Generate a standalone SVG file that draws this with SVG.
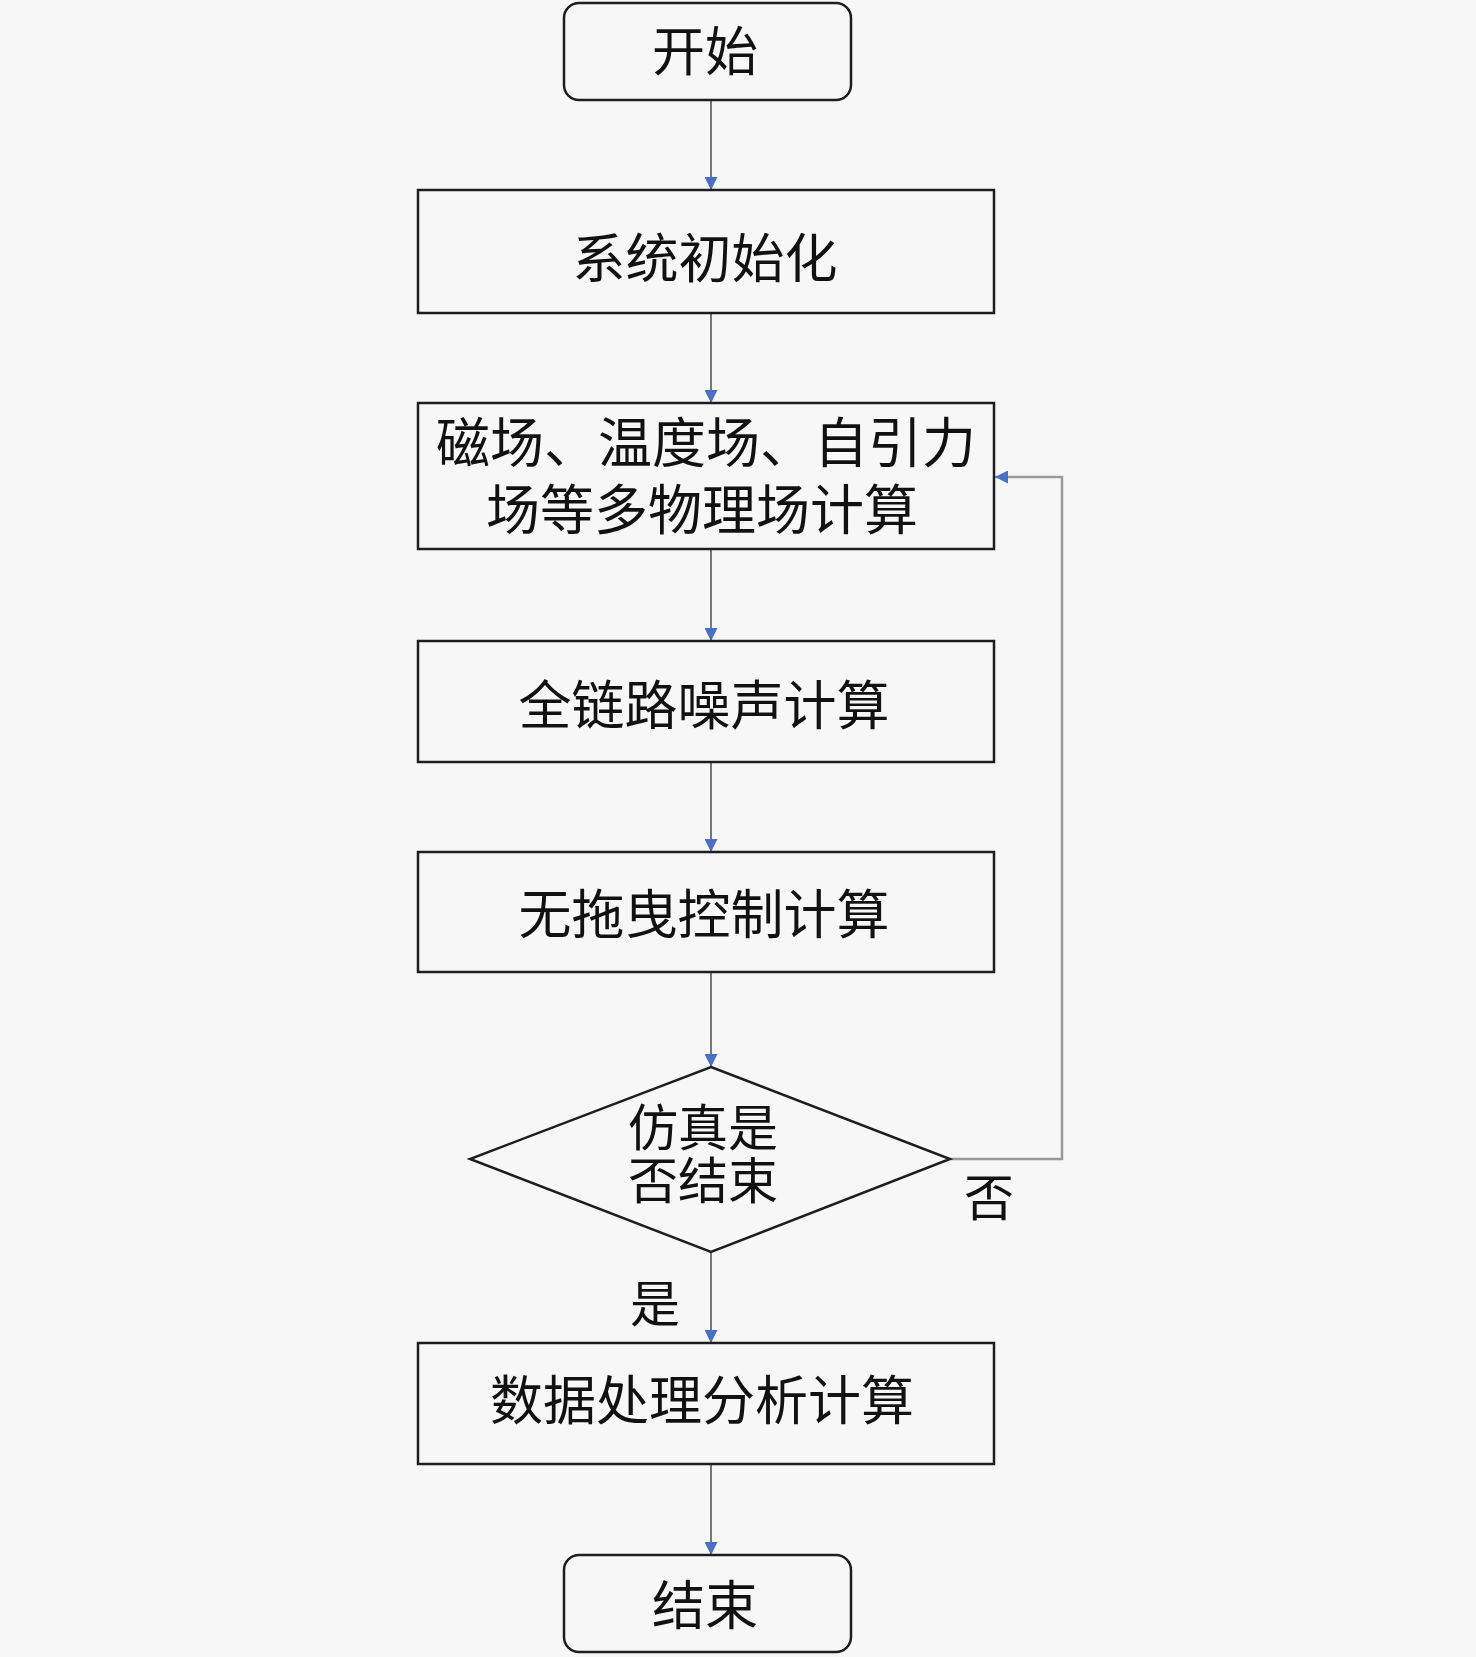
<svg xmlns="http://www.w3.org/2000/svg" width="1476" height="1657" viewBox="0 0 1476 1657">
<defs>
<style>
.box{fill:#f7f7f7;stroke:#1e1e1e;stroke-width:2.5}
.t{font-family:"Liberation Serif","Noto Sans CJK SC",serif;font-size:53px;fill:#111;text-anchor:middle;dominant-baseline:central}
.c{fill:none;stroke:#555;stroke-width:1.6}
.fb{fill:none;stroke:#9a9a9a;stroke-width:2.5}
</style>
<marker id="ah" viewBox="0 0 10 10" refX="10" refY="5" markerWidth="14" markerHeight="13" markerUnits="userSpaceOnUse" orient="auto">
<path d="M0,0 L10,5 L0,10 z" fill="#4a6fc4"/>
</marker>
</defs>
<rect width="1476" height="1657" fill="#f7f7f7"/>
<g id="connectors">
<line class="c" x1="711" y1="100" x2="711" y2="190" marker-end="url(#ah)"/>
<line class="c" x1="711" y1="313" x2="711" y2="403" marker-end="url(#ah)"/>
<line class="c" x1="711" y1="549" x2="711" y2="641" marker-end="url(#ah)"/>
<line class="c" x1="711" y1="762" x2="711" y2="852" marker-end="url(#ah)"/>
<line class="c" x1="711" y1="972" x2="711" y2="1067" marker-end="url(#ah)"/>
<line class="c" x1="711" y1="1252" x2="711" y2="1343" marker-end="url(#ah)"/>
<line class="c" x1="711" y1="1464" x2="711" y2="1555" marker-end="url(#ah)"/>
<polyline class="fb" points="950,1159 1062,1159 1062,477 995,477" marker-end="url(#ah)"/>
<text class="t" x="989" y="1199" style="font-size:50px">否</text>
<text class="t" x="655" y="1305" style="font-size:50px">是</text>
</g>
<g id="start">
<rect class="box" x="564" y="3" width="287" height="97" rx="15"/>
<text class="t" x="705" y="53">开始</text>
</g>
<g id="init">
<rect class="box" x="418" y="190" width="576" height="123"/>
<text class="t" x="705" y="260">系统初始化</text>
</g>
<g id="fields">
<rect class="box" x="418" y="403" width="576" height="146"/>
<text class="t" x="706" y="445" style="font-size:54px">磁场、温度场、自引力</text>
<text class="t" x="702" y="512" style="font-size:54px">场等多物理场计算</text>
</g>
<g id="noise">
<rect class="box" x="418" y="641" width="576" height="121"/>
<text class="t" x="704" y="707">全链路噪声计算</text>
</g>
<g id="dragfree">
<rect class="box" x="418" y="852" width="576" height="120"/>
<text class="t" x="704" y="916">无拖曳控制计算</text>
</g>
<g id="decision">
<polygon class="box" points="711,1067 950,1159 711,1252 470,1159"/>
<text class="t" x="703" y="1129" style="font-size:50px">仿真是</text>
<text class="t" x="703" y="1182" style="font-size:50px">否结束</text>
</g>
<g id="process">
<rect class="box" x="418" y="1343" width="576" height="121"/>
<text class="t" x="702" y="1402">数据处理分析计算</text>
</g>
<g id="end">
<rect class="box" x="564" y="1555" width="287" height="97" rx="15"/>
<text class="t" x="705" y="1607">结束</text>
</g>
</svg>
